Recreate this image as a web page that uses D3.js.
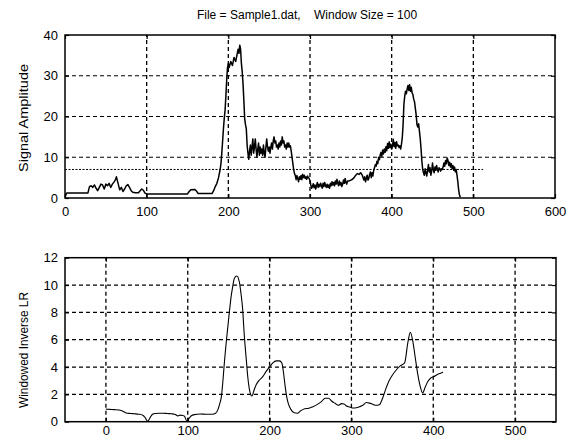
<!DOCTYPE html>
<html>
<head>
<meta charset="utf-8">
<script src="https://cdn.jsdelivr.net/npm/d3@7"></script>
<style>
  html, body { margin: 0; padding: 0; background: #fff; }
  svg { display: block; }
  text { font-family: "Liberation Sans", Arial, sans-serif; fill: #000; }
</style>
</head>
<body>
<svg id="chart" width="573" height="440"></svg>
<script>
// ---- Signal amplitude (top panel) ----
const sigX = [0,2,28,30,32,34,36,38,40,42,44,46,48,50,52,54,56,58,60,62,63,65,67,69,71,73,75,77,79,81,83,86,90,92,94,96,98,100,150,152,154,159,161,163,180,182,184,186,188,190,191,192,193,194,195,196,197,198,199,200,201,203,205,207,209,211,212,213,214,215,216,217,218,219,220,221,222,223,224,225,226,227,228,229,230,231,232,233,234,235,236,237,238,239,240,241,242,243,244,245,246,247,248,249,250,251,252,253,254,255,256,257,258,259,260,261,262,263,264,265,266,267,268,269,270,271,272,273,274,275,276,277,278,279,280,281,282,283,284,285,286,287,288,289,290,291,292,293,294,295,296,297,298,299,300,301,302,303,304,305,306,307,308,309,310,311,312,313,314,315,316,317,318,319,320,321,322,323,324,325,326,327,328,329,330,331,332,333,334,335,336,337,338,339,340,341,342,343,344,345,346,347,348,350,352,354,356,358,360,362,364,366,367,368,369,370,371,372,373,374,375,376,377,378,379,380,381,382,383,384,385,386,387,388,389,390,391,392,393,394,395,396,397,398,399,400,401,402,403,404,405,406,407,408,409,410,411,412,413,414,415,416,417,418,419,420,421,422,423,424,425,426,427,428,429,430,431,432,433,434,435,436,437,438,439,440,441,442,443,444,445,446,447,448,449,450,451,452,453,454,455,456,457,458,459,460,461,462,463,464,465,466,467,468,469,470,471,472,473,474,475,476,477,478,479,480,481,482,483,484];
const sigY = [0.3,1.2,1.2,2.8,3.0,2.6,3.2,2.4,1.8,2.6,3.4,3.2,2.2,3.4,3.0,3.6,2.6,3.4,3.9,4.6,5.2,3.6,2.0,2.6,1.6,2.2,3.0,3.3,2.6,1.8,1.4,1.3,1.3,1.8,2.2,1.9,1.2,1.0,1.0,1.6,2.0,2.1,1.7,1.1,1.1,1.8,2.8,3.6,5.0,7.0,8.5,11,14,17,19.5,21.5,25,29,32,33,32,33.5,32.5,34.5,33.5,35.5,36.5,35.5,37.5,36.5,33,31,28,24,19.5,18,17,13,11,9.5,11.5,13,10.5,12.5,14.5,11,12.5,14.5,12,10,12,13.5,10.5,12.5,11,12,10.5,13,11,10,12.5,14.5,12.5,11.5,12.5,11,12.5,13.5,12,14,15,13.5,14,12.5,13,12,13.5,12.5,14,13,15,13.5,14,12.5,13,12,13.5,12.5,13.5,12.5,12.8,11.5,10,8.5,7,6,5.5,4.5,5.5,4.8,4,5.2,4.6,5.5,4.5,5.8,5,5.6,4.8,5.2,4.6,5.4,5,4.8,4.2,3.2,2.4,2.8,3.5,2.5,3.2,2.2,3.0,3.8,2.6,3.4,2.8,3.6,3.0,2.4,3.6,2.8,3.8,3.0,2.6,3.4,2.6,3.2,2.4,3.6,3.0,4.0,3.2,3.8,3.0,4.2,3.4,4.6,3.6,3.0,4.2,3.2,3.8,2.8,3.4,4.4,3.6,4.8,3.8,3.4,4.2,4.2,4.2,4.4,4.6,5,5.6,6,5.8,6.2,5.6,4.4,5.2,4.0,4.8,5.6,4.4,4.8,5.8,6.4,5.0,6.2,5.4,6.8,7.4,8.2,7.8,9,8.4,10,9.4,10.6,11.2,10.2,11.8,10.8,12,11.2,12.6,11.6,13.4,12.2,13.8,12.4,13.2,12,12.8,14.4,12.6,13.6,12.2,13.8,12.8,13,12.4,12.8,12,13.2,14.8,18,23,25,26.2,25.6,26.8,27.6,26.4,27.8,26.2,27.2,25.8,25.4,24.2,23.6,22,20.4,18,17.4,18.2,16.4,14.5,12,9,7,6.2,5.6,7.2,6.2,5.4,6.8,8.2,6.4,7.4,5.6,6.6,8.6,7.0,6.2,7.6,6.8,8.0,7.0,6.4,7.4,7.2,6.6,7.2,7.0,7.6,8.6,7.8,9.2,8.4,9.8,9.2,8.0,8.8,7.6,8.4,7.2,8.0,6.8,7.6,6.4,7.0,5.6,4.0,2.0,0.8,0.2];
const thresholdValue = 7;
const thresholdX = [0, 512];
const topXTicks = [0, 100, 200, 300, 400, 500, 600];
const topYTicks = [0, 10, 20, 30, 40];

// ---- Windowed inverse LR (bottom panel) ----
const lrX = [0,5,10,16,20,24,30,35,40,45,48,51,54,57,60,65,70,75,80,84,88,91,94,96,99,101,104,108,115,122,130,134,137,139,141,143,145,147,149,151,153,155,157,160,163,165,167,169,171.6,173.5,175.6,178.5,181,183.6,187,191.7,196,200,204,208,212,215,217,219,221,223,226,230,234,238,243,248,253,258,263,268,272,276,280,284,288,291,294,298,302,306,310,314,318,322,326,330,334,338,342,346,350,355,360,365,369,372,375,378,381,384,387,390,393,397,401,405,409,412];
const lrY = [0.92,0.9,0.88,0.86,0.78,0.66,0.6,0.58,0.55,0.48,0.3,0.03,0.3,0.54,0.6,0.62,0.62,0.6,0.58,0.55,0.42,0.48,0.46,0.4,0.03,0.2,0.42,0.52,0.56,0.55,0.55,0.62,0.9,1.3,1.8,3.0,4.5,5.8,6.95,8.1,9.15,9.9,10.5,10.66,10.24,9.4,8.3,6.4,4.5,3.2,2.3,1.88,2.3,2.7,3.0,3.3,3.7,4.0,4.3,4.45,4.45,4.3,3.6,2.6,1.8,1.3,0.9,0.65,0.62,0.8,0.95,0.98,1.1,1.25,1.45,1.72,1.72,1.5,1.35,1.2,1.32,1.3,1.15,1.08,1.0,1.02,1.1,1.2,1.4,1.36,1.28,1.2,1.24,1.7,2.4,3.0,3.4,3.8,4.1,4.3,5.8,6.55,5.9,4.7,3.5,2.6,2.1,2.5,2.9,3.2,3.3,3.45,3.55,3.62];
const botXTicks = [0, 100, 200, 300, 400, 500];
const botYTicks = [0, 2, 4, 6, 8, 10, 12];

const svg = d3.select("#chart");

function drawPanel(opts) {
  const { x, y, xTicks, yTicks, ylabel, labelY, labelLen, xPad } = opts;
  const g = svg.append("g");
  const [x0, x1] = x.range();
  const [yb, yt] = y.range();

  // dashed grid
  const gridX = xTicks.filter(t => x(t) > x0 + 1 && x(t) < x1 - 1);
  const gridY = yTicks.filter(t => y(t) < yb - 1 && y(t) > yt + 1);
  g.selectAll(".gx").data(gridX).join("line")
    .attr("x1", d => x(d)).attr("x2", d => x(d))
    .attr("y1", yb).attr("y2", yt)
    .attr("stroke", "#000").attr("stroke-width", 1.3)
    .attr("stroke-dasharray", "4,3");
  g.selectAll(".gy").data(gridY).join("line")
    .attr("x1", x0).attr("x2", x1)
    .attr("y1", d => y(d)).attr("y2", d => y(d))
    .attr("stroke", "#000").attr("stroke-width", 1.2)
    .attr("stroke-dasharray", "4,3");

  // axes with inward ticks on all four sides
  const axB = g.append("g").attr("transform", `translate(0,${yb})`)
    .call(d3.axisBottom(x).tickValues(xTicks).tickSize(-4).tickPadding(xPad).tickSizeOuter(0));
  const axT = g.append("g").attr("transform", `translate(0,${yt})`)
    .call(d3.axisTop(x).tickValues(xTicks).tickSize(-4).tickFormat("").tickSizeOuter(0));
  const axL = g.append("g").attr("transform", `translate(${x0},0)`)
    .call(d3.axisLeft(y).tickValues(yTicks).tickSize(-4).tickPadding(7).tickSizeOuter(0));
  const axR = g.append("g").attr("transform", `translate(${x1},0)`)
    .call(d3.axisRight(y).tickValues(yTicks).tickSize(-4).tickFormat("").tickSizeOuter(0));
  [axB, axT, axL, axR].forEach(a => {
    a.select(".domain").remove();
    a.selectAll(".tick line").attr("stroke", "#000").attr("stroke-width", 1.2);
    a.selectAll("text").style("font-size", "13px")
      .style("font-family", "'Liberation Sans', Arial, sans-serif").attr("fill", "#000");
  });

  // frame
  g.append("rect").attr("x", x0).attr("y", yt)
    .attr("width", x1 - x0).attr("height", yb - yt)
    .attr("fill", "none").attr("stroke", "#000").attr("stroke-width", 1.5);

  // y axis label
  svg.append("text")
    .attr("transform", `translate(28,${labelY}) rotate(-90)`)
    .attr("text-anchor", "middle")
    .attr("textLength", labelLen)
    .attr("lengthAdjust", "spacingAndGlyphs")
    .style("font-size", "13.5px")
    .text(ylabel);
  return g;
}

// top panel
const xTop = d3.scaleLinear().domain([0, 600]).range([65, 555]);
const yTop = d3.scaleLinear().domain([0, 40]).range([198, 35]);
const gTop = drawPanel({ x: xTop, y: yTop, xTicks: topXTicks, yTicks: topYTicks,
  ylabel: "Signal Amplitude", labelY: 118, labelLen: 108, xPad: 9 });

gTop.append("line")
  .attr("x1", xTop(thresholdX[0])).attr("x2", xTop(thresholdX[1]))
  .attr("y1", yTop(thresholdValue)).attr("y2", yTop(thresholdValue))
  .attr("stroke", "#000").attr("stroke-width", 1).attr("stroke-dasharray", "2,1.5");

gTop.append("path")
  .datum(d3.zip(sigX, sigY))
  .attr("fill", "none").attr("stroke", "#000").attr("stroke-width", 1.5)
  .attr("stroke-linejoin", "round")
  .attr("d", d3.line().x(d => xTop(d[0])).y(d => yTop(d[1])));

svg.append("text")
  .attr("x", 307).attr("y", 19)
  .attr("text-anchor", "middle")
  .attr("xml:space", "preserve")
  .style("white-space", "pre")
  .style("font-size", "12px")
  .text("File = Sample1.dat,    Window Size = 100");

// bottom panel
const xBot = d3.scaleLinear().domain([-50, 550]).range([65, 556]);
const yBot = d3.scaleLinear().domain([0, 12]).range([421.7, 257.7]);
const gBot = drawPanel({ x: xBot, y: yBot, xTicks: botXTicks, yTicks: botYTicks,
  ylabel: "Windowed Inverse LR", labelY: 350, labelLen: 116, xPad: 4 });

gBot.append("path")
  .datum(d3.zip(lrX, lrY))
  .attr("fill", "none").attr("stroke", "#000").attr("stroke-width", 1.1)
  .attr("stroke-linejoin", "round")
  .attr("d", d3.line().curve(d3.curveMonotoneX).x(d => xBot(d[0])).y(d => yBot(d[1])));
</script>
</body>
</html>
